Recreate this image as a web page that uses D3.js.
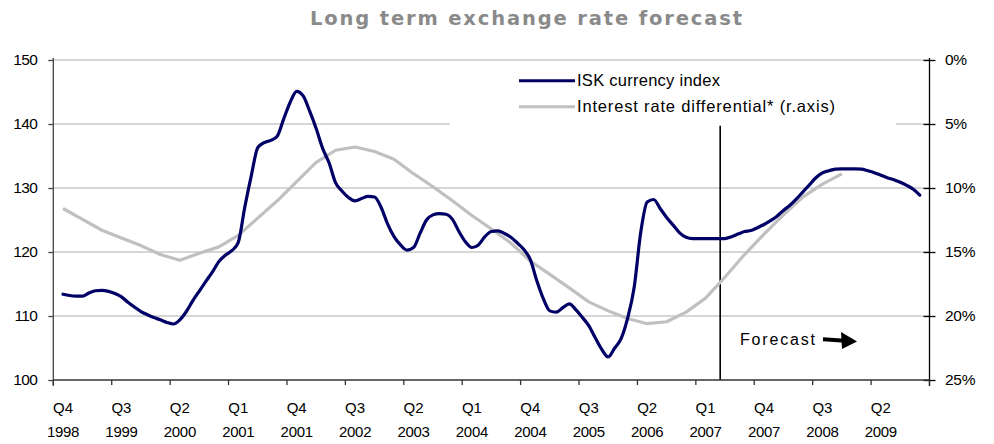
<!DOCTYPE html>
<html>
<head>
<meta charset="utf-8">
<script src="https://cdn.jsdelivr.net/npm/d3@7/dist/d3.min.js"></script>
<style>
  html, body { margin: 0; padding: 0; background: #ffffff; }
  svg { display: block; }
  text { font-family: "Liberation Sans", Arial, sans-serif; fill: #000; }
  .title { font-family: "DejaVu Sans", Verdana, sans-serif; font-weight: bold; font-size: 19.5px; fill: #8a8a8a; }
</style>
</head>
<body>
<svg id="chart" width="994" height="444"></svg>
<script>
// ISK currency index, monthly from Nov 1998 to Nov 2009 (forecast from spring 2007)
const iskIndex = [
  113.4, 113.2, 113.1, 113.1, 113.6, 113.95, 114.0, 113.85, 113.5, 113.0,
  112.15, 111.4, 110.7, 110.2, 109.75, 109.4, 109.0, 108.75, 109.4, 110.7,
  112.4, 113.9, 115.4, 116.85, 118.5, 119.5, 120.2, 121.5, 127.0, 131.9,
  136.3, 137.1, 137.45, 138.1, 140.8, 143.4, 145.1, 144.4, 142.0, 139.3,
  136.2, 133.9, 130.8, 129.5, 128.5, 128.0, 128.35, 128.7, 128.6, 127.0,
  124.4, 122.4, 121.1, 120.3, 120.7, 122.9, 125.0, 125.8, 126.0, 125.9,
  125.1, 123.2, 121.6, 120.7, 121.1, 122.4, 123.2, 123.3, 122.9, 122.3,
  121.4, 120.4, 118.8, 115.5, 112.7, 110.8, 110.6, 111.3, 111.9, 111.0,
  109.8, 108.5, 106.6, 104.8, 103.6, 105.0, 106.5, 109.7, 114.5, 123.0,
  127.8, 128.2, 126.8, 125.4, 124.2, 123.0, 122.3, 122.1, 122.1, 122.1,
  122.1, 122.1, 122.1, 122.4, 122.8, 123.2, 123.35, 123.8, 124.3, 124.9,
  125.6, 126.5, 127.3, 128.3, 129.4, 130.5, 131.6, 132.35, 132.7, 132.95,
  133.0, 133.0, 133.0, 132.95, 132.7, 132.4, 132.0, 131.6, 131.3, 130.9,
  130.4, 129.8, 128.9
];

// Interest rate differential (%), quarterly from Q4 1998 to Q4 2008
const rateDifferential = [
  11.6, 12.45, 13.3, 13.9, 14.5, 15.2, 15.65, 15.1, 14.6, 13.7,
  12.35, 11.0, 9.5, 8.0, 7.05, 6.8, 7.15, 7.75, 8.88, 9.9,
  11.0, 12.15, 13.2, 14.3, 15.7, 16.75, 17.8, 18.9, 19.6, 20.2,
  20.6, 20.45, 19.7, 18.6, 16.95, 15.2, 13.6, 12.1, 10.7, 9.7,
  8.9
];

// Category labels, one every three quarters
const quarterLabels = [
  ["Q4", "1998"], ["Q3", "1999"], ["Q2", "2000"], ["Q1", "2001"], ["Q4", "2001"],
  ["Q3", "2002"], ["Q2", "2003"], ["Q1", "2004"], ["Q4", "2004"], ["Q3", "2005"],
  ["Q2", "2006"], ["Q1", "2007"], ["Q4", "2007"], ["Q3", "2008"], ["Q2", "2009"]
];
const leftTicks = [100, 110, 120, 130, 140, 150];
const rightTicks = [0, 5, 10, 15, 20, 25];
const seriesNames = ["ISK currency index", "Interest rate differential* (r.axis)"];
const titleText = "Long term exchange rate forecast";
const forecastStart = 34.25; // in quarters since Q4 1998

const nQuarters = 45;
const svg = d3.select("#chart");
const plot = { left: 53.3, right: 929.5, top: 60, bottom: 380 };

const x = d3.scaleLinear().domain([0, nQuarters]).range([plot.left, plot.right]);
const yL = d3.scaleLinear().domain([100, 150]).range([plot.bottom, plot.top]);
const yR = d3.scaleLinear().domain([0, 25]).range([plot.top, plot.bottom]);

const gridColor = "#c8c8c8";
const navy = "#000066";
const grey = "#c0c0c0";

// Title, spaced out to span 432px
const title = svg.append("text")
  .attr("class", "title")
  .attr("x", 310).attr("y", 25)
  .text(titleText);
const natural = title.node().getComputedTextLength();
const spacing = (432 - natural) / (titleText.length - 1);
title.style("letter-spacing", spacing + "px");

// Horizontal gridlines
svg.append("g").selectAll("line")
  .data(leftTicks.filter(d => d > 100))
  .join("line")
  .attr("x1", plot.left).attr("x2", plot.right)
  .attr("y1", d => yL(d)).attr("y2", d => yL(d))
  .attr("stroke", gridColor).attr("stroke-width", 1.5);

// Forecast divider
svg.append("line")
  .attr("x1", x(forecastStart)).attr("x2", x(forecastStart))
  .attr("y1", plot.top + 4).attr("y2", plot.bottom)
  .attr("stroke", "#000").attr("stroke-width", 1.6);

// Interest rate differential (right axis)
const greyLine = d3.line()
  .x((d, i) => x(i + 0.5))
  .y(d => yR(d));
svg.append("path")
  .datum(rateDifferential)
  .attr("d", greyLine)
  .attr("fill", "none")
  .attr("stroke", grey).attr("stroke-width", 3.2)
  .attr("stroke-linejoin", "round");

// ISK currency index (left axis)
const navyLine = d3.line()
  .x((d, i) => x(0.5 + i / 3))
  .y(d => yL(d))
  .curve(d3.curveMonotoneX);
svg.append("path")
  .datum(iskIndex)
  .attr("d", navyLine)
  .attr("fill", "none")
  .attr("stroke", navy).attr("stroke-width", 3.2)
  .attr("stroke-linejoin", "round").attr("stroke-linecap", "round");

// Legend (white box over the gridline)
const legend = svg.append("g");
legend.append("rect")
  .attr("x", 450).attr("y", 61.2).attr("width", 446).attr("height", 64.5)
  .attr("fill", "#fff");
const legendRows = [
  { name: seriesNames[0], color: navy, y: 80.7, base: 86, len: 143 },
  { name: seriesNames[1], color: grey, y: 106.7, base: 112, len: 258 }
];
legendRows.forEach(r => {
  legend.append("line")
    .attr("x1", 519).attr("x2", 575)
    .attr("y1", r.y).attr("y2", r.y)
    .attr("stroke", r.color).attr("stroke-width", 3);
  legend.append("text")
    .attr("x", 577).attr("y", r.base)
    .attr("textLength", r.len).attr("lengthAdjust", "spacing")
    .style("font-size", "16.5px")
    .text(r.name);
});

// Left axis
const gL = svg.append("g")
  .attr("transform", `translate(${plot.left},0)`)
  .call(d3.axisLeft(yL).tickValues(leftTicks).tickSize(5).tickPadding(11).tickSizeOuter(0));
gL.select(".domain").attr("stroke", "#444").attr("stroke-width", 1.3)
  .attr("d", `M0,${plot.top - 2}V${plot.bottom + 6}`);
gL.selectAll(".tick line").attr("stroke", "#444").attr("stroke-width", 1.3);
gL.selectAll(".tick text")
  .style("font-family", "'Liberation Sans', Arial, sans-serif")
  .style("font-size", "15.5px").style("letter-spacing", "-0.6px")
  .attr("fill", "#000");

// Right axis (inverted percentage scale)
const gR = svg.append("g")
  .attr("transform", `translate(${plot.right},0)`)
  .call(d3.axisRight(yR).tickValues(rightTicks).tickSize(6).tickPadding(9.5)
    .tickFormat(d => d + "%").tickSizeOuter(0));
gR.select(".domain").attr("stroke", "#000").attr("stroke-width", 1.3)
  .attr("d", `M0,${plot.top - 2}V${plot.bottom + 6}`);
gR.selectAll(".tick line").attr("x1", -6).attr("x2", 6)
  .attr("stroke", "#000").attr("stroke-width", 1.3);
gR.selectAll(".tick text")
  .style("font-family", "'Liberation Sans', Arial, sans-serif")
  .style("font-size", "15.5px").style("letter-spacing", "-0.3px")
  .attr("fill", "#000");

// Bottom category axis
const tickPositions = d3.range(0, nQuarters + 1, 3);
const gX = svg.append("g").attr("transform", `translate(0,${plot.bottom})`);
gX.append("line")
  .attr("x1", plot.left).attr("x2", plot.right)
  .attr("stroke", "#333").attr("stroke-width", 1.3);
gX.selectAll(".xtick")
  .data(tickPositions)
  .join("line")
  .attr("class", "xtick")
  .attr("x1", d => x(d)).attr("x2", d => x(d))
  .attr("y1", 0).attr("y2", 5)
  .attr("stroke", "#333").attr("stroke-width", 1.3);
const labels = gX.selectAll(".xlabel")
  .data(quarterLabels)
  .join("text")
  .attr("class", "xlabel")
  .attr("text-anchor", "middle")
  .style("font-size", "15px");
labels.append("tspan")
  .attr("x", (d, i) => x(i * 3 + 0.5)).attr("y", 33)
  .text(d => d[0]);
labels.append("tspan")
  .attr("x", (d, i) => x(i * 3 + 0.5)).attr("y", 57)
  .style("letter-spacing", "-0.3px")
  .text(d => d[1]);

// Forecast annotation with arrow
svg.append("text")
  .attr("x", 740).attr("y", 345)
  .attr("textLength", 75).attr("lengthAdjust", "spacing")
  .style("font-size", "16px")
  .text("Forecast");
svg.append("line")
  .attr("x1", 823).attr("y1", 339.2).attr("x2", 845).attr("y2", 340.8)
  .attr("stroke", "#000").attr("stroke-width", 4);
svg.append("path")
  .attr("d", "M841,332 L857,341.5 L842,349 Z")
  .attr("fill", "#000");
</script>
</body>
</html>
